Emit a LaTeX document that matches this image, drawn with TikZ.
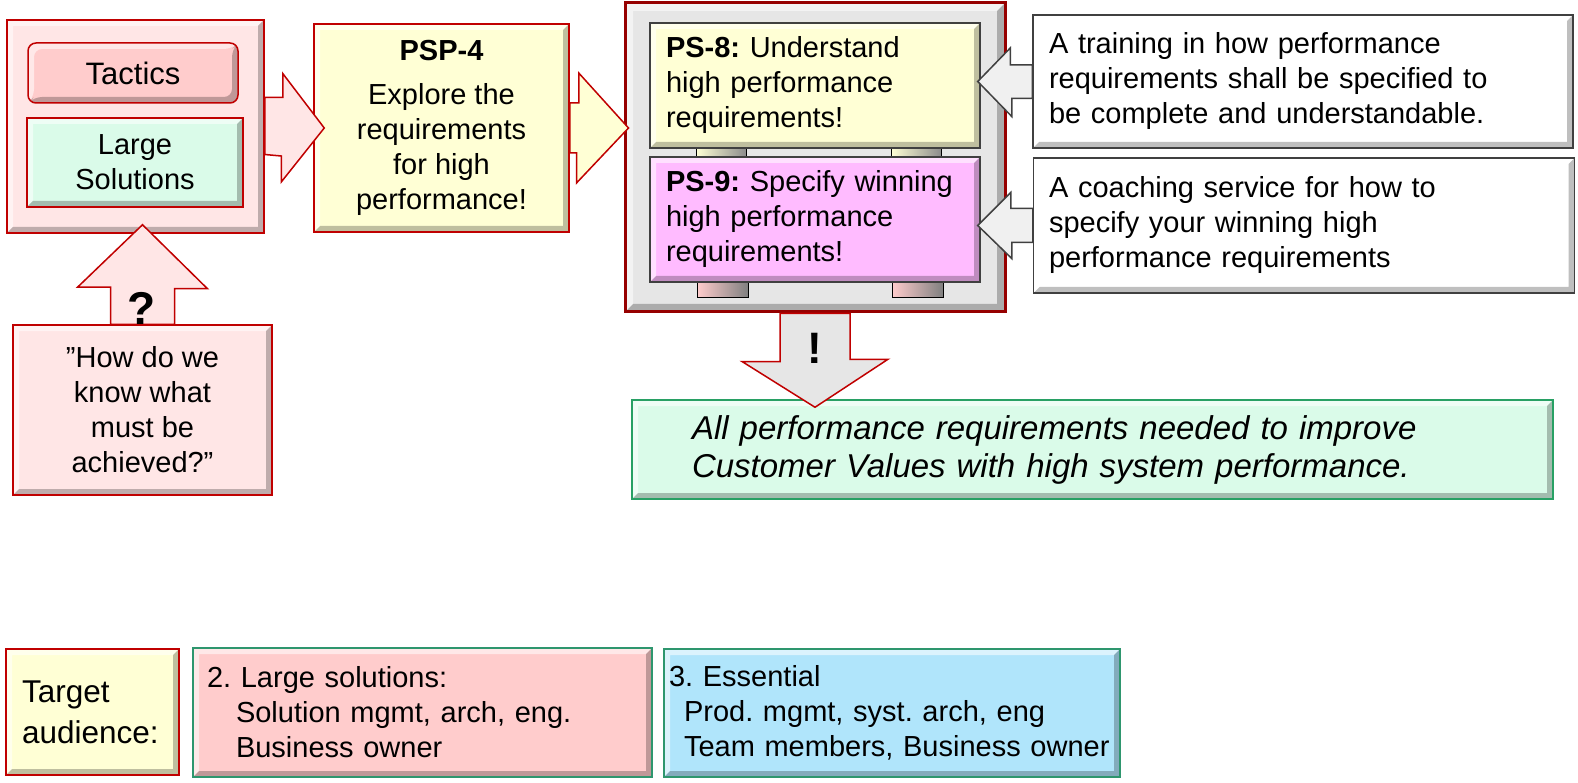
\documentclass[tikz,border=0pt]{standalone}
\usepackage{fontspec}
\setmainfont{Liberation Sans}
\usetikzlibrary{positioning, calc}

\definecolor{darkred}{RGB}{192,0,0}
\definecolor{maroon}{RGB}{150,0,0}
\definecolor{pinkpale}{RGB}{255,230,230}
\definecolor{pinkbox}{RGB}{255,204,204}
\definecolor{mintbox}{RGB}{218,251,233}
\definecolor{yellowbox}{RGB}{255,255,213}
\definecolor{greyfill}{RGB}{230,230,230}
\definecolor{violetbox}{RGB}{255,187,255}
\definecolor{bluebox}{RGB}{176,229,251}
\definecolor{tealline}{RGB}{46,150,110}
\definecolor{greenline}{RGB}{40,160,100}
\definecolor{darkline}{RGB}{64,64,64}

\newcommand{\bodyfont}{\fontsize{29}{35}\selectfont}
\frenchspacing

\tikzset{
  bevel/.style={path picture={
      \fill[white, opacity=0.55] (path picture bounding box.south west)
        -- (path picture bounding box.north west)
        -- (path picture bounding box.north east)
        -- ([shift={(-#1,-#1)}]path picture bounding box.north east)
        -- ([shift={(#1,-#1)}]path picture bounding box.north west)
        -- ([shift={(#1,#1)}]path picture bounding box.south west) -- cycle;
      \fill[black, opacity=0.25] (path picture bounding box.south west)
        -- (path picture bounding box.south east)
        -- (path picture bounding box.north east)
        -- ([shift={(-#1,-#1)}]path picture bounding box.north east)
        -- ([shift={(-#1,#1)}]path picture bounding box.south east)
        -- ([shift={(#1,#1)}]path picture bounding box.south west) -- cycle;
    }},
  bevel/.default=6pt
}

\begin{document}
\begin{tikzpicture}[
    x=1pt, y=-1pt,
    every node/.style={font=\bodyfont, inner sep=0pt},
    redbox/.style={draw=darkred, line width=1.5pt, bevel},
    greybox/.style={draw=darkline, line width=1.5pt, bevel},
    tealbox/.style={draw=tealline, line width=1.5pt, bevel},
    barrow/.style={line width=1.5pt, line join=miter}
]
    \useasboundingbox (0,0) rectangle (1578,783);

    % left column
    \node[redbox, fill=pinkpale, minimum width=257pt, minimum height=213pt] (outer) at (135.5,126.5) {};
    \node[redbox, fill=pinkbox, rounded corners=8pt, minimum width=210pt, minimum height=60pt,
          font=\fontsize{31}{37}\selectfont] (tactics) at (133,73) {Tactics};
    \node[redbox, fill=mintbox, minimum width=216pt, minimum height=89pt, align=center] (large) at (135,162.5) {Large\\Solutions};
    \node[redbox, fill=pinkpale, minimum width=259pt, minimum height=170pt, align=center] (question) at (142.5,410)
        {”How do we\\know what\\must be\\achieved?”};

    % PSP-4
    \node[redbox, fill=yellowbox, minimum width=255pt, minimum height=208pt, align=center] (psp) at (441.5,128)
        {\textbf{PSP-4}\\[9pt]Explore the\\requirements\\for high\\performance!};

    % PS boxes
    \node[draw=maroon, line width=3pt, fill=greyfill, bevel=8pt, minimum width=380pt, minimum height=309pt] (holder) at (815,157.5) {};
    \foreach \tx in {696,891} {
        \draw[line width=1pt, left color=yellowbox, right color=black!45] (\tx,140) rectangle ++(50,20);
        \draw[line width=1pt, left color=pinkbox, right color=black!50] (\tx+1,270) rectangle ++(51,28);
    }
    \node[greybox, fill=yellowbox, minimum width=330pt, minimum height=125pt, text width=298pt, align=left] (ps8) at (815,85.5)
        {\textbf{PS-8:} Understand\\high performance\\requirements!};
    \node[greybox, fill=violetbox, minimum width=330pt, minimum height=125pt, text width=298pt, align=left] (ps9) at (815,219.5)
        {\textbf{PS-9:} Specify winning\\high performance\\requirements!};

    % services
    \node[greybox, fill=white, minimum width=540pt, minimum height=133pt, text width=508pt, align=left] (training) at (1303,81.5)
        {A training in how performance\\requirements shall be specified to\\be complete and understandable.};
    \node[greybox, fill=white, minimum width=541pt, minimum height=135pt, text width=510pt, align=left] (coaching) at (1304,225.5)
        {A coaching service for how to\\specify your winning high\\performance requirements};

    % result
    \node[draw=greenline, line width=1.5pt, bevel, fill=mintbox, minimum width=921pt, minimum height=99pt, text width=801pt,
          align=left, font=\fontsize{33}{38}\selectfont\itshape] (result) at (1092.5,449.5)
        {All performance requirements needed to improve\\Customer Values with high system performance.};

    % target audience
    \node[redbox, fill=yellowbox, minimum width=173pt, minimum height=126pt, text width=141pt, align=left,
          font=\fontsize{31.5}{41}\selectfont] (target) at (92.5,712) {Target\\audience:};
    \node[tealbox, fill=pinkbox, minimum width=459pt, minimum height=129pt, text width=431pt, align=left] (largesol) at (422.5,712.5)
        {2. Large solutions:\\\hspace*{29pt}Solution mgmt, arch, eng.\\\hspace*{29pt}Business owner};
    \node[tealbox, fill=bluebox, minimum width=456pt, minimum height=128pt, text width=446pt, align=left] (essential) at (892,713)
        {3. Essential\\\hspace*{15pt}Prod. mgmt, syst. arch, eng\\\hspace*{15pt}Team members, Business owner};

    % block arrows
    \draw[barrow, draw=darkred, fill=pinkpale] ([yshift=29pt]outer.east) -- ++(18,0) -- ++(0,-24)
        -- ([xshift=11pt]psp.west) -- ++(-43,54) -- ++(0,-26) -- ([yshift=-28pt]outer.east) -- cycle;

    \coordinate (t2) at (holder.west |- psp.east);
    \draw[barrow, draw=darkred, fill=yellowbox] ([yshift=25pt]psp.east) -- ++(9,0) -- ++(0,-30)
        -- ([xshift=5pt]t2) -- ++(-52,55) -- ++(0,-30) -- ([yshift=-25pt]psp.east) -- cycle;

    \coordinate (t3) at (question.north |- outer.south);
    \draw[barrow, draw=darkred, fill=pinkpale] ([xshift=-32pt]question.north) -- ++(0,-37) -- ++(-33,0)
        -- ([yshift=9pt]t3) -- ++(65,64) -- ++(-33,0) -- ([xshift=32pt]question.north) -- cycle;
    \node[font=\bfseries\fontsize{46}{46}\selectfont] (qmark) at (142,308) {?};

    \coordinate (t4) at (holder.south |- result.north);
    \draw[barrow, draw=darkred, fill=greyfill] ([xshift=-35pt]holder.south) -- ++(0,48) -- ++(-38,0)
        -- ([yshift=-8pt]t4) -- ++(73,-48) -- ++(-38,0) -- ([xshift=35pt]holder.south) -- cycle;
    \node[font=\bfseries\fontsize{44}{44}\selectfont] (bang) at (815,348) {!};

    \coordinate (t5) at (ps8.east |- training.west);
    \draw[barrow, draw=darkline, fill=white!94!black] ([yshift=16.5pt]training.west) -- ++(-22,0) -- ++(0,-17)
        -- ([xshift=-3pt]t5) -- ++(34,35) -- ++(0,-18) -- ([yshift=-17pt]training.west) -- cycle;

    \coordinate (t6) at (ps9.east |- coaching.west);
    \draw[barrow, draw=darkline, fill=white!94!black] ([yshift=17pt]coaching.west) -- ++(-22,0) -- ++(0,-16)
        -- ([xshift=-3pt]t6) -- ++(34,33) -- ++(0,-16) -- ([yshift=-17pt]coaching.west) -- cycle;
\end{tikzpicture}
\end{document}
